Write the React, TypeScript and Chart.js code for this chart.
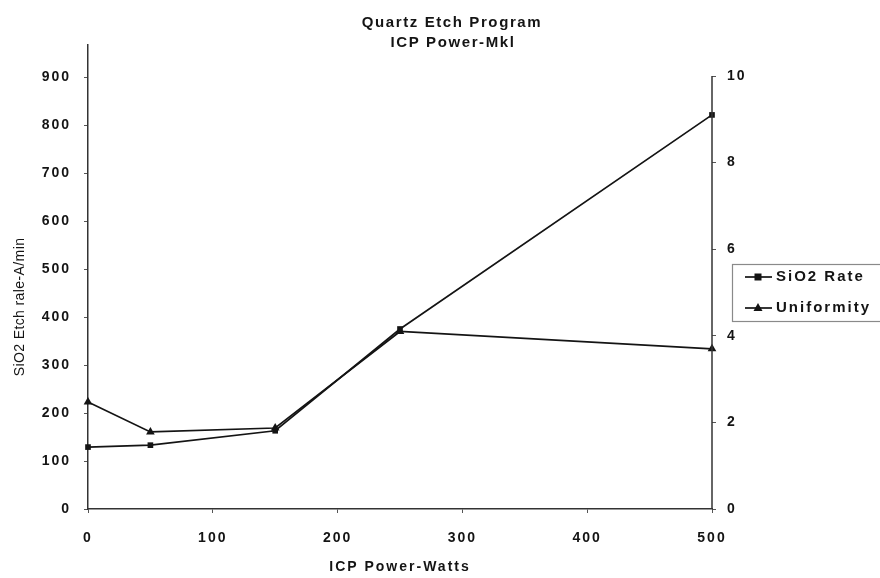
import React, { useEffect, useRef } from 'react';
import { Chart, registerables } from 'chart.js';

Chart.register(...registerables);

const powerWatts = [0, 50, 150, 250, 500];
const sio2Rate = [129, 133, 163, 375, 821];
const uniformity = [2.47, 1.78, 1.87, 4.1, 3.7];
const leftTicks = [0, 100, 200, 300, 400, 500, 600, 700, 800, 900];
const rightTicks = [0, 2, 4, 6, 8, 10];
const xTicks = [0, 100, 200, 300, 400, 500];
const chartTitle = ['Quartz Etch Program', 'ICP Power-Mkl'];
const xTitle = 'ICP Power-Watts';
const yTitle = 'SiO2 Etch rale-A/min';
const seriesNames = ['SiO2 Rate', 'Uniformity'];

const FONT = "'Liberation Sans', Arial, sans-serif";
const INK = '#141414';

const spacingPlugin = {
  id: 'spacing',
  beforeLayout(chart: any) {
    chart.ctx.letterSpacing = '2px';
  },
  beforeDraw(chart: any) {
    chart.ctx.letterSpacing = '2px';
  },
};

const decorPlugin = {
  id: 'decor',
  afterDraw(chart: any) {
    const ctx = chart.ctx;
    const y1 = chart.scales.y1;
    // right axis line from 0 to 10
    ctx.save();
    ctx.strokeStyle = '#333';
    ctx.lineWidth = 1.5;
    ctx.beginPath();
    ctx.moveTo(y1.left, y1.getPixelForValue(rightTicks[0]));
    ctx.lineTo(y1.left, y1.getPixelForValue(rightTicks[rightTicks.length - 1]));
    ctx.stroke();
    ctx.restore();

    // chart title
    ctx.save();
    ctx.fillStyle = INK;
    ctx.textAlign = 'center';
    ctx.textBaseline = 'middle';
    ctx.font = `bold 15px ${FONT}`;
    ctx.letterSpacing = '1.6px';
    ctx.fillText(chartTitle[0], 452, 23);
    ctx.fillText(chartTitle[1], 453, 43);
    ctx.restore();

    // y axis title (rotated)
    ctx.save();
    ctx.fillStyle = INK;
    ctx.font = `14px ${FONT}`;
    ctx.letterSpacing = '0.4px';
    ctx.translate(20, 307);
    ctx.rotate(-Math.PI / 2);
    ctx.textAlign = 'center';
    ctx.textBaseline = 'middle';
    ctx.fillText(yTitle, 0, 0);
    ctx.restore();

    // legend
    ctx.save();
    ctx.strokeStyle = '#8a8a8a';
    ctx.lineWidth = 1.2;
    ctx.strokeRect(732.5, 264.5, 160, 57);
    const rows = [277, 308];
    seriesNames.forEach((name, i) => {
      const y = rows[i];
      ctx.strokeStyle = INK;
      ctx.fillStyle = INK;
      ctx.lineWidth = 1.7;
      ctx.beginPath();
      ctx.moveTo(745, y);
      ctx.lineTo(772, y);
      ctx.stroke();
      const cx = 758;
      if (i === 0) {
        ctx.fillRect(cx - 3.5, y - 3.5, 7, 7);
      } else {
        ctx.beginPath();
        ctx.moveTo(cx, y - 5);
        ctx.lineTo(cx + 4.5, y + 3);
        ctx.lineTo(cx - 4.5, y + 3);
        ctx.closePath();
        ctx.fill();
      }
      ctx.font = `bold 15px ${FONT}`;
      ctx.letterSpacing = '2px';
      ctx.textAlign = 'left';
      ctx.textBaseline = 'middle';
      ctx.fillText(name, 776, y);
    });
    ctx.restore();
  },
};

function keepTicks(list: number[]) {
  return (scale: any) => {
    scale.ticks = list.map((v) => ({ value: v }));
  };
}

export default function App() {
  const ref = useRef<HTMLCanvasElement | null>(null);

  useEffect(() => {
    if (!ref.current) return;
    const chart = new Chart(ref.current, {
      type: 'line',
      data: {
        datasets: [
          {
            label: seriesNames[0],
            data: powerWatts.map((x, i) => ({ x, y: sio2Rate[i] })),
            yAxisID: 'y',
            borderColor: INK,
            backgroundColor: INK,
            borderWidth: 1.7,
            pointStyle: 'rect',
            pointRadius: 4,
            pointBorderWidth: 0,
            pointBackgroundColor: INK,
            tension: 0,
            clip: false,
          },
          {
            label: seriesNames[1],
            data: powerWatts.map((x, i) => ({ x, y: uniformity[i] })),
            yAxisID: 'y1',
            borderColor: INK,
            backgroundColor: INK,
            borderWidth: 1.7,
            pointStyle: 'triangle',
            pointRadius: 5,
            pointBorderWidth: 0,
            pointBackgroundColor: INK,
            tension: 0,
            clip: false,
          },
        ],
      },
      options: {
        responsive: false,
        animation: false,
        devicePixelRatio: 1,
        layout: { padding: { top: 45, left: 0, right: 0, bottom: 0 } },
        plugins: {
          legend: { display: false },
          title: { display: false },
          tooltip: { enabled: false },
        },
        scales: {
          x: {
            type: 'linear',
            min: xTicks[0],
            max: xTicks[xTicks.length - 1],
            afterBuildTicks: keepTicks(xTicks),
            afterFit: (s: any) => {
              s.height = 69;
            },
            border: { display: true, color: '#333', width: 1.5 },
            grid: { drawOnChartArea: false, drawTicks: true, tickLength: 4, color: '#555' },
            ticks: {
              color: INK,
              font: { family: FONT, size: 14, weight: 'bold' },
              padding: 17,
              maxRotation: 0,
              callback: (v: any) => String(v),
            },
            title: {
              display: true,
              text: xTitle,
              color: INK,
              font: { family: FONT, size: 14, weight: 'bold' },
              padding: { top: 0, bottom: 2 },
            },
          },
          y: {
            type: 'linear',
            position: 'left',
            min: 0,
            max: 966.67,
            afterBuildTicks: keepTicks(leftTicks),
            afterFit: (s: any) => {
              s.width = 88;
            },
            border: { display: true, color: '#333', width: 1.5 },
            grid: { drawOnChartArea: false, drawTicks: true, tickLength: 4, color: '#555' },
            ticks: {
              color: INK,
              font: { family: FONT, size: 14, weight: 'bold' },
              padding: 13,
              callback: (v: any) => String(v),
            },
          },
          y1: {
            type: 'linear',
            position: 'right',
            min: 0,
            max: 10.716,
            afterBuildTicks: keepTicks(rightTicks),
            afterFit: (s: any) => {
              s.width = 168;
            },
            border: { display: false },
            grid: { drawOnChartArea: false, drawTicks: true, tickLength: 4, color: '#555' },
            ticks: {
              color: INK,
              font: { family: FONT, size: 14, weight: 'bold' },
              padding: 11,
              callback: (v: any) => String(v),
            },
          },
        },
      },
      plugins: [spacingPlugin, decorPlugin],
    } as any);
    return () => chart.destroy();
  }, []);

  return (
    <div style={{ position: 'absolute', left: 0, top: 0, width: 880, height: 578, background: '#fff' }}>
      <canvas ref={ref} width={880} height={578} style={{ display: 'block' }} />
    </div>
  );
}
